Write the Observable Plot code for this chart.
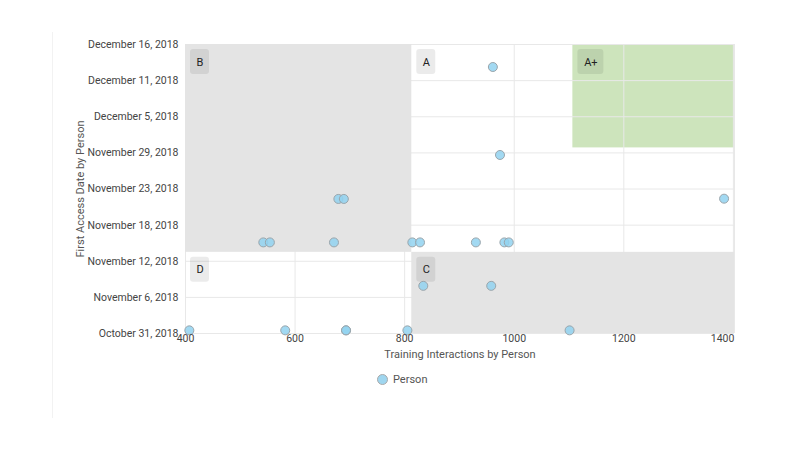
<!DOCTYPE html>
<html>
<head>
<meta charset="utf-8">
<script src="https://cdn.jsdelivr.net/npm/d3@7"></script>
<script src="https://cdn.jsdelivr.net/npm/@observablehq/plot@0.6"></script>
<style>
  body { margin: 0; background: #fff; font-family: Roboto, "Noto Sans", sans-serif; }
  #wrap { position: relative; width: 800px; height: 450px; overflow: hidden; }
  #edge { position: absolute; left: 52px; top: 32px; width: 0; height: 386px; border-left: 1px solid #f2f2f2; }
  #legend { position: absolute; left: 377px; top: 373px; display: flex; align-items: center; font-size: 11px; color: #555; }
  #legend span.sw { width: 9px; height: 9px; border-radius: 50%; background: #9fd6ef; border: 1px solid #aaa; margin-right: 5px; }
</style>
</head>
<body>
<div id="wrap">
  <div id="edge"></div>
  <div id="chart"></div>
  <div id="legend"><span class="sw"></span><span>Person</span></div>
</div>
<script>
// ---- data ----
const seriesName = "Person";
const xTitle = "Training Interactions by Person";
const yTitle = "First Access Date by Person";

const personInteractions = [961, 974, 1383, 679, 689, 542, 554, 671, 814, 828, 930, 982, 990, 834, 958, 407, 582, 693, 693, 805, 1101];
const personFirstAccess = [
  "2018-12-12T10:00Z", "2018-11-28T10:00Z", "2018-11-21T11:00Z", "2018-11-21T10:00Z", "2018-11-21T10:00Z",
  "2018-11-14T12:00Z", "2018-11-14T12:00Z", "2018-11-14T12:00Z", "2018-11-14T12:00Z", "2018-11-14T12:00Z",
  "2018-11-14T12:00Z", "2018-11-14T12:00Z", "2018-11-14T12:00Z",
  "2018-11-07T14:00Z", "2018-11-07T14:00Z",
  "2018-10-31T12:00Z", "2018-10-31T12:00Z", "2018-10-31T12:00Z", "2018-10-31T12:00Z", "2018-10-31T12:00Z", "2018-10-31T12:00Z"
];

const xDomain = [400, 1402];
const yDomain = ["2018-10-31T00:00Z", "2018-12-16T00:00Z"];
const xTicks = [400, 600, 800, 1000, 1200, 1400];
const yTickLabels = ["October 31, 2018", "November 6, 2018", "November 12, 2018", "November 18, 2018",
  "November 23, 2018", "November 29, 2018", "December 5, 2018", "December 11, 2018", "December 16, 2018"];

const regionLabels = ["B", "A", "A+", "D", "C"];
const regionX1 = [400, 813, 1107, 400, 813];
const regionX2 = [813, 1402, 1402, 813, 1402];
const regionY1 = ["2018-11-12T22:00Z", "2018-11-12T22:00Z", "2018-11-29T13:00Z", "2018-10-31T00:00Z", "2018-10-31T00:00Z"];
const regionY2 = ["2018-12-16T00:00Z", "2018-12-16T00:00Z", "2018-12-16T00:00Z", "2018-11-12T22:00Z", "2018-11-12T22:00Z"];
const regionKind = ["grey", "white", "green", "white", "grey"];

// ---- build tables ----
const people = personInteractions.map((x, i) => ({x, date: new Date(personFirstAccess[i])}));
const regions = regionLabels.map((label, i) => ({
  label, kind: regionKind[i],
  x1: regionX1[i], x2: regionX2[i],
  y1: new Date(regionY1[i]), y2: new Date(regionY2[i])
}));
const y0 = new Date(yDomain[0]), y1 = new Date(yDomain[1]);
const yTicks = yTickLabels.map((_, i) => new Date(+y0 + i * (y1 - y0) / (yTickLabels.length - 1)));

const fillOf = {grey: "#e4e4e4", white: "#ffffff", green: "#cde4bc"};
const font = "Roboto";

const labelMarks = regions.flatMap(r => {
  const w = 12 + 7 * r.label.length;
  return [
    Plot.rect([r], {x1: "x1", x2: "x1", y1: "y2", y2: "y2",
      insetLeft: 5, insetRight: -(5 + w), insetTop: 5, insetBottom: -30,
      fill: "#000", fillOpacity: 0.08, rx: 3}),
    Plot.text([r], {x: "x1", y: "y2", text: "label", dx: 5 + w / 2, dy: 17.5,
      fill: "#222", fontSize: 11, fontFamily: font})
  ];
});

const chart = Plot.plot({
  width: 800,
  height: 450,
  marginLeft: 185,
  marginRight: 66,
  marginTop: 44,
  marginBottom: 117,
  style: {fontFamily: "Roboto, 'Noto Sans', sans-serif", background: "transparent"},
  x: {domain: xDomain, axis: null},
  y: {type: "utc", domain: [y0, y1], axis: null},
  marks: [
    Plot.rect(regions.filter(r => r.kind === "green"), {x1: "x1", x2: "x2", y1: "y1", y2: "y2", fill: d => fillOf[d.kind]}),
    Plot.ruleX(xTicks, {stroke: "#e8e8e8", strokeWidth: 1}),
    Plot.ruleY(yTicks, {stroke: "#e8e8e8", strokeWidth: 1}),
    Plot.ruleX([xDomain[1]], {stroke: "#e8e8e8"}),
    Plot.rect(regions.filter(r => r.kind === "grey"), {x1: "x1", x2: "x2", y1: "y1", y2: "y2", fill: d => fillOf[d.kind]}),
    ...labelMarks,
    Plot.dot(people, {x: "x", y: "date", r: 4.5, fill: "#92d2f0", fillOpacity: 0.85, stroke: "#9aa5ab", strokeWidth: 1}),
    Plot.text(xTicks.slice(0, -1), {x: d => d, text: d => String(d), frameAnchor: "bottom", dy: 8, fill: "#444", fontSize: 10.5, fontFamily: font}),
    Plot.text(xTicks.slice(-1), {x: d => d, text: d => String(d), frameAnchor: "bottom", dy: 8, dx: 1, textAnchor: "end", fill: "#444", fontSize: 10.5, fontFamily: font}),
    Plot.text(yTicks, {y: d => d, text: (d, i) => yTickLabels[i], frameAnchor: "left", textAnchor: "end", dx: -7, fill: "#444", fontSize: 10.5, fontFamily: font}),
    Plot.text([xTitle], {frameAnchor: "bottom", dy: 24, fill: "#555", fontSize: 11, fontFamily: font}),
    Plot.text([yTitle], {frameAnchor: "left", textAnchor: "middle", dx: -105, rotate: -90, fill: "#555", fontSize: 11, fontFamily: font})
  ]
});
document.getElementById("chart").appendChild(chart);
</script>
</body>
</html>
